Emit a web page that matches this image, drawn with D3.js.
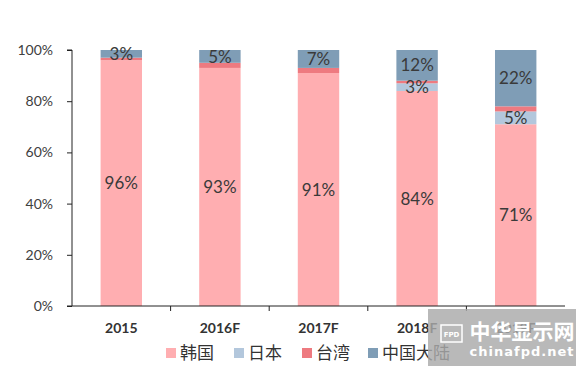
<!DOCTYPE html>
<html>
<head>
<meta charset="utf-8">
<script src="https://cdn.jsdelivr.net/npm/d3@7"></script>
<style>
  body { margin: 0; background: #fff; }
  svg { display: block; }
</style>
</head>
<body>
<div id="chart"></div>
<script>
// data
var years = ["2015", "2016F", "2017F", "2018F", "2019F"];
var seriesNames = ["韩国", "日本", "台湾", "中国大陆"];
var korea  = [96, 93, 91, 84, 71];
var japan  = [0, 0, 0, 3, 5];
var taiwan = [1, 2, 2, 1, 2];
var china  = [3, 5, 7, 12, 22];
var yTicks = [0, 20, 40, 60, 80, 100];
var colors = ["#ffaeb1", "#b3c7dc", "#ee7a80", "#7f9db6"];
// which series get labels
var showLabel = [true, true, false, true];

var W = 580, H = 370;
var margin = {left: 72, right: 15, top: 50, bottom: 64};

var svg = d3.select("#chart").append("svg")
	.attr("width", W).attr("height", H);

var rows = years.map(function(y, i) {
	return {year: y, "韩国": korea[i], "日本": japan[i], "台湾": taiwan[i], "中国大陆": china[i]};
});

var x = d3.scaleBand().domain(years)
	.range([margin.left, W - margin.right])
	.paddingInner(0.58).paddingOuter(0.29);
var y = d3.scaleLinear().domain([0, 100]).range([H - margin.bottom, margin.top]);

var stack = d3.stack().keys(seriesNames)(rows);

var layers = svg.selectAll("g.layer").data(stack).enter().append("g")
	.attr("class", "layer")
	.attr("fill", function(d, i) { return colors[i]; });

layers.selectAll("rect").data(function(d) { return d; }).enter().append("rect")
	.attr("x", function(d) { return x(d.data.year); })
	.attr("width", x.bandwidth())
	.attr("y", function(d) { return y(d[1]); })
	.attr("height", function(d) { return y(d[0]) - y(d[1]); });

// value labels
stack.forEach(function(layer, li) {
	if (!showLabel[li]) return;
	svg.append("g").selectAll("text").data(layer.filter(function(d) { return d[1] - d[0] > 0; }))
		.enter().append("text")
		.attr("x", function(d) { return x(d.data.year) + x.bandwidth() / 2; })
		.attr("y", function(d) { return (y(d[0]) + y(d[1])) / 2; })
		.attr("dy", "0.36em")
		.attr("text-anchor", "middle")
		.attr("fill", "#3a3a3a")
		.style("font-family", "Lato, 'Open Sans', sans-serif")
		.style("font-size", "17px")
		.text(function(d) { return (d[1] - d[0]) + "%"; });
});

// y axis
var yAxis = svg.append("g")
	.attr("transform", "translate(" + margin.left + ",0)")
	.call(d3.axisLeft(y).tickValues(yTicks).tickSize(5).tickPadding(14)
		.tickFormat(function(d) { return d + "%"; }));
yAxis.select(".domain").attr("stroke", "#222").attr("d", "M-5," + y(100) + "H0V" + y(0) + "H-5");
yAxis.selectAll(".tick line").attr("stroke", "#222");
yAxis.selectAll("text")
	.attr("fill", "#404040")
	.style("font-family", "Lato, 'Open Sans', sans-serif")
	.style("font-size", "14px");

// x axis
var xAxis = svg.append("g")
	.attr("transform", "translate(0," + y(0) + ")")
	.call(d3.axisBottom(x).tickSize(0).tickPadding(17));
xAxis.select(".domain").attr("stroke", "#222").attr("d", "M" + margin.left + ",0H" + (W - margin.right));
xAxis.selectAll("text")
	.attr("fill", "#333")
	.style("font-family", "Lato, 'Open Sans', sans-serif")
	.style("font-weight", "bold")
	.style("font-size", "14px");
// category separator ticks
var step = x.step();
xAxis.append("g").selectAll("line").data(years.slice(1)).enter().append("line")
	.attr("x1", function(d) { return x(d) - x.paddingInner() * step / 2; })
	.attr("x2", function(d) { return x(d) - x.paddingInner() * step / 2; })
	.attr("y1", 0).attr("y2", 5)
	.attr("stroke", "#222");

// legend
var legendX = [166, 234, 302, 368];
var legend = svg.append("g").attr("transform", "translate(0,353)");
var li = legend.selectAll("g").data(seriesNames).enter().append("g")
	.attr("transform", function(d, i) { return "translate(" + legendX[i] + ",0)"; });
li.append("rect")
	.attr("x", 0).attr("y", -5).attr("width", 10).attr("height", 10)
	.attr("fill", function(d, i) { return colors[i]; });
li.append("text")
	.attr("x", 14).attr("dy", "0.36em")
	.attr("fill", "#333")
	.style("font-family", "'Noto Sans CJK SC', sans-serif")
	.style("font-size", "17px")
	.text(function(d) { return d; });

// watermark
var wm = svg.append("g");
wm.append("rect")
	.attr("x", 428).attr("y", 309).attr("width", 148).attr("height", 57)
	.attr("fill", "#a9a9a9").attr("fill-opacity", 0.82);
wm.append("rect")
	.attr("x", 441).attr("y", 325).attr("width", 21).attr("height", 17)
	.attr("fill", "none").attr("stroke", "#fff").attr("stroke-width", 1.5);
wm.append("text")
	.attr("x", 451.5).attr("y", 337).attr("text-anchor", "middle")
	.attr("fill", "#fff").style("font-family", "'DejaVu Sans', sans-serif")
	.style("font-size", "7px").style("font-weight", "bold").text("FPD");
wm.append("text")
	.attr("x", 522).attr("y", 339).attr("text-anchor", "middle")
	.attr("fill", "#fff").style("font-family", "'Noto Sans CJK SC', sans-serif")
	.style("font-size", "21px").style("font-weight", "bold").text("中华显示网");
wm.append("text")
	.attr("x", 522).attr("y", 356).attr("text-anchor", "middle")
	.attr("fill", "#fff").style("font-family", "'DejaVu Sans', sans-serif")
	.style("font-size", "13px").style("font-weight", "bold")
	.style("letter-spacing", "1px").text("chinafpd.net");
</script>
</body>
</html>
